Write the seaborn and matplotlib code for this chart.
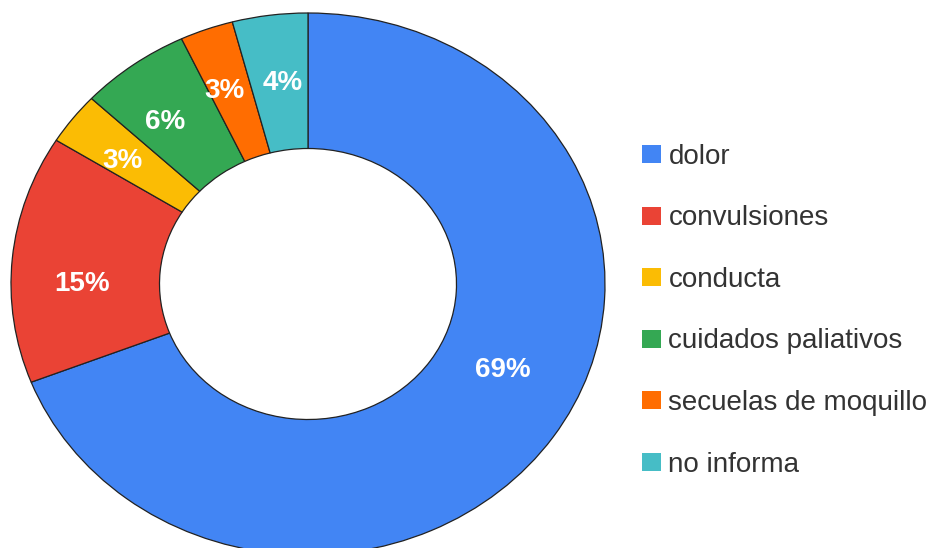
import matplotlib
matplotlib.use("Agg")
import matplotlib.pyplot as plt
from matplotlib.patches import Patch
import seaborn as sns

sns.set_theme(style="white")
plt.rcParams["font.family"] = ["Liberation Sans", "DejaVu Sans"]

categories = ["dolor", "convulsiones", "conducta", "cuidados paliativos",
              "secuelas de moquillo", "no informa"]
shares = [69.1, 14.8, 3.1, 6.0, 2.9, 4.1]
colors = sns.color_palette(["#4285F4", "#EA4335", "#FBBC04", "#34A853",
                            "#FF6D01", "#46BDC6"])

# pixel nudges (right, down) of the slice labels; google charts places them a bit off-centre
label_nudge_px = [(2, 1), (-4, 19), (-9, 1), (-12, 2), (-7, -2), (3, 1)]

fig = plt.figure(figsize=(9.53, 5.48), dpi=100)
# the source image is slightly stretched horizontally, so the donut is an ellipse
ax = fig.add_axes([11 / 953, -7 / 548, 594 / 953, 542 / 548])

wedges, _, pcts = ax.pie(
    shares, colors=colors, startangle=90, counterclock=False, radius=1,
    wedgeprops=dict(width=0.5, edgecolor="#222222", linewidth=0.9),
    autopct=lambda p: f"{p:.0f}%", pctdistance=0.75,
    textprops=dict(color="white", fontsize=20, fontweight="bold"),
)
for w in wedges:
    w.set_clip_on(False)

# big slice label sits higher in the original
x, y = pcts[0].get_position()
pcts[0].set_position((x + 0.03, y + 0.11))
for t, (dx, dy) in zip(pcts, label_nudge_px):
    x, y = t.get_position()
    t.set_position((x + dx / 297, y - dy / 271))

ax.set_aspect("auto")
ax.set_xlim(-1, 1)
ax.set_ylim(-1, 1)
ax.axis("off")

handles = [Patch(facecolor=c, edgecolor="none") for c in colors]
fig.legend(handles, categories, loc="center left",
           bbox_to_anchor=(642 / 953, 0.433), frameon=False,
           fontsize=20, labelcolor="#333333",
           handlelength=0.7, handleheight=0.62, handletextpad=0.25,
           labelspacing=1.28, borderaxespad=0, borderpad=0)

fig.savefig("out.png", dpi=100, facecolor="white")
